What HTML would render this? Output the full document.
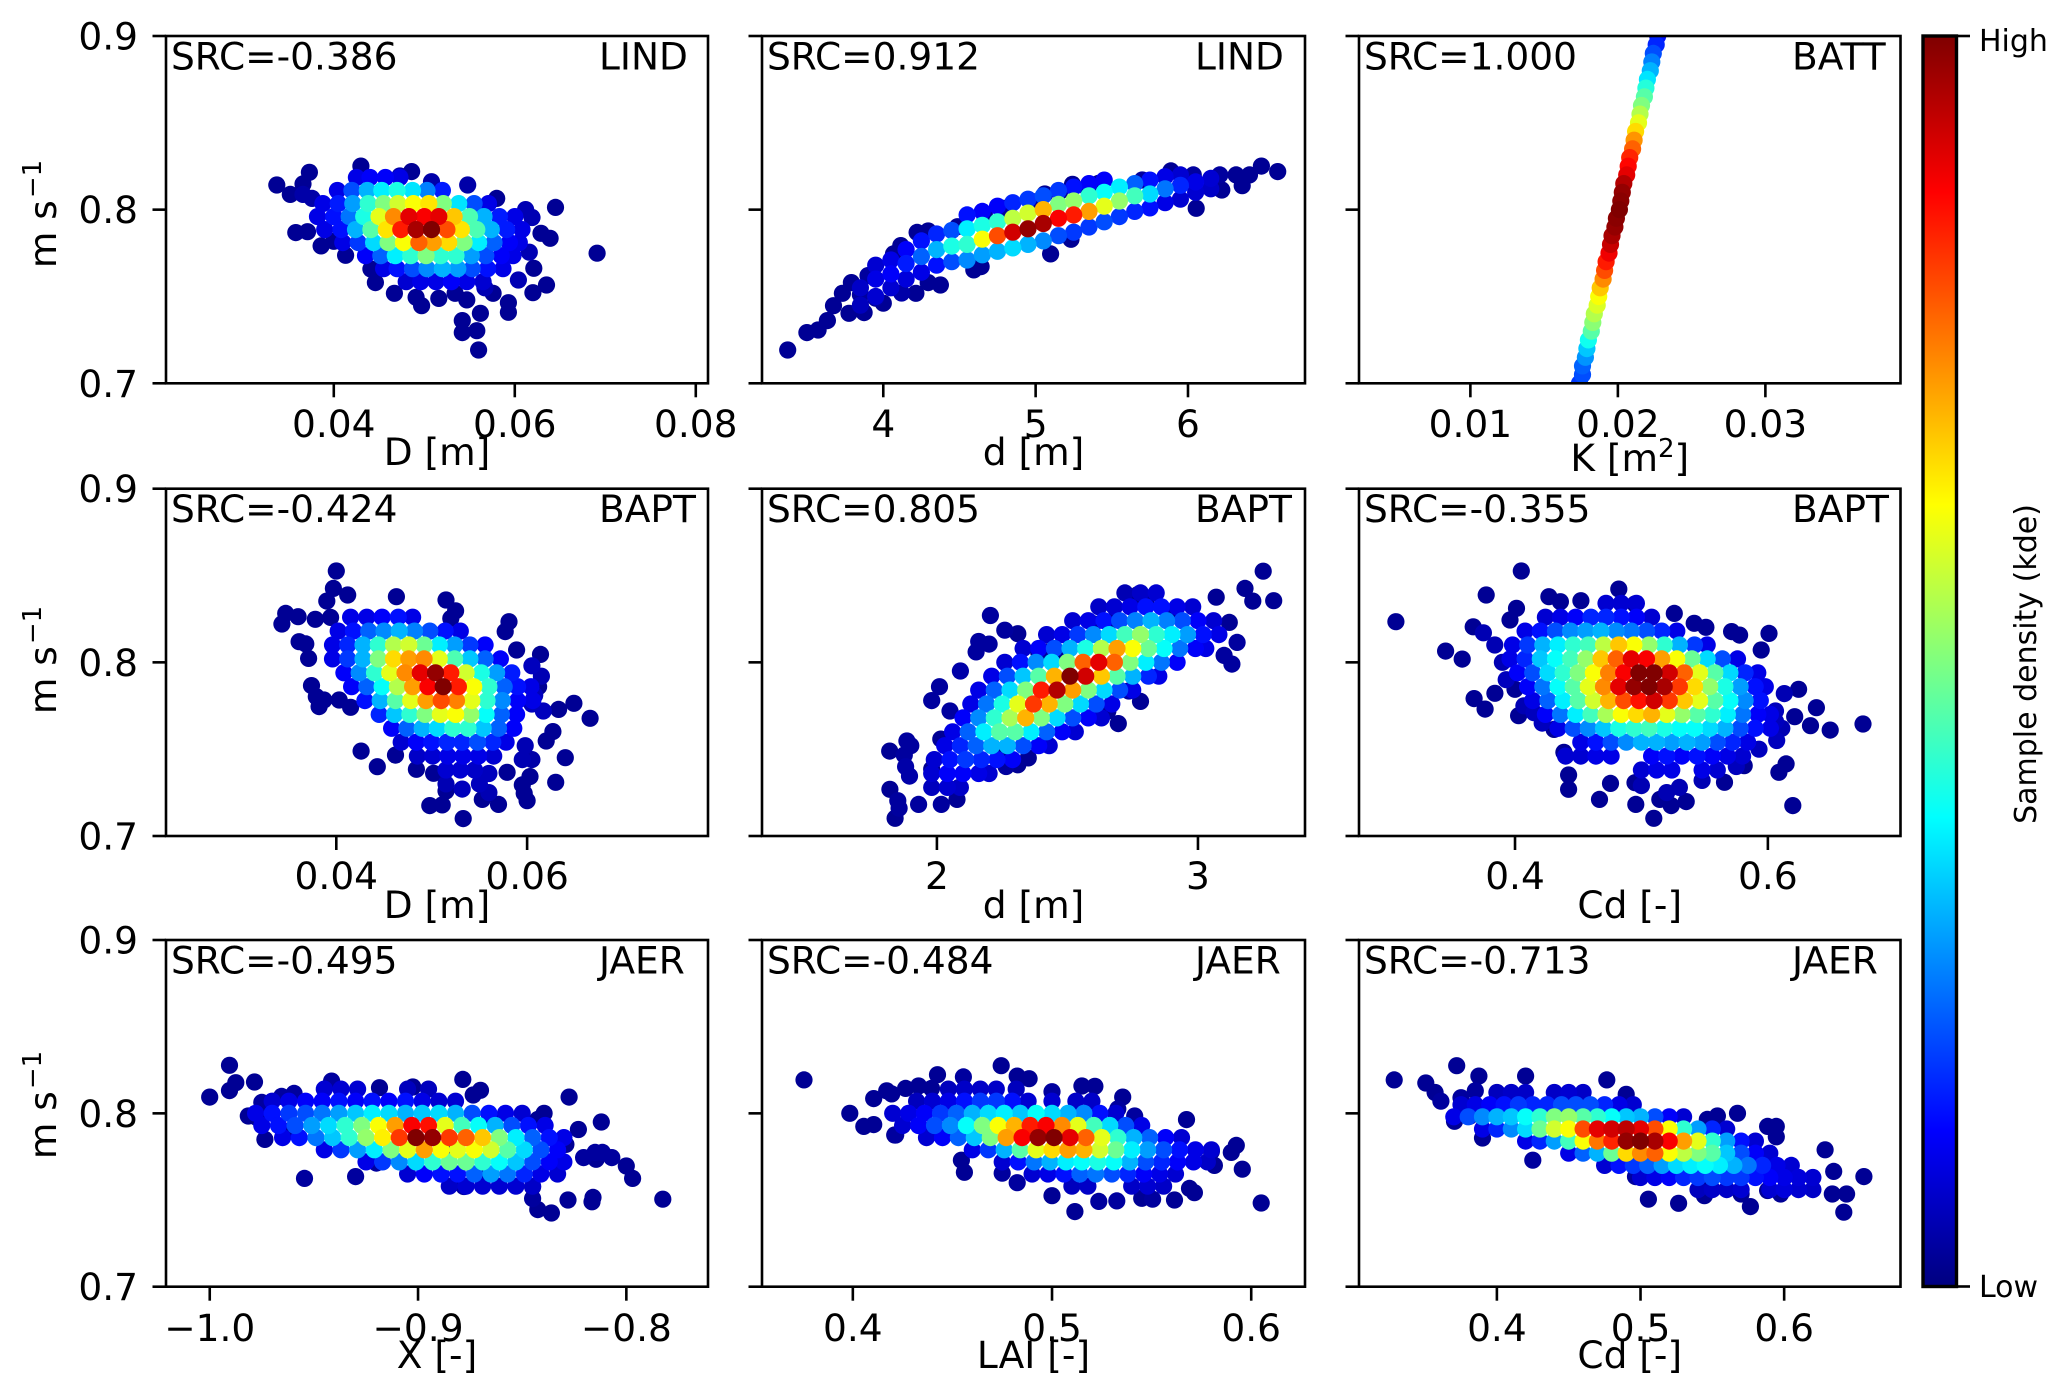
<!DOCTYPE html>
<html lang="en">
<head>
<meta charset="utf-8">
<title>Sensitivity scatter panels</title>
<style>
html,body{margin:0;padding:0;background:#fff;}
svg{display:block;}
text{font-family:"DejaVu Sans","Liberation Sans",sans-serif;fill:#000;}
</style>
</head>
<body>
<svg id="figure" xmlns="http://www.w3.org/2000/svg" width="2067" height="1399" viewBox="0 0 2067 1399">
<defs>
<linearGradient id="jetGradient" x1="0" y1="1" x2="0" y2="0">
<stop offset="0" stop-color="#00007f"/>
<stop offset="0.125" stop-color="#0000ff"/>
<stop offset="0.375" stop-color="#00ffff"/>
<stop offset="0.625" stop-color="#ffff00"/>
<stop offset="0.875" stop-color="#ff0000"/>
<stop offset="1" stop-color="#7f0000"/>
</linearGradient>
</defs>
<rect x="0" y="0" width="2067" height="1399" fill="#fff"/>
<g id="panels"></g>
<g id="colorbar">
<rect x="1923" y="36" width="33.5" height="1250.5" fill="url(#jetGradient)" stroke="#000" stroke-width="3.4"/>
<line x1="1956" y1="36" x2="1970" y2="36" stroke="#000" stroke-width="2.6"/>
<line x1="1956" y1="1286.5" x2="1970" y2="1286.5" stroke="#000" stroke-width="2.6"/>
<text x="1979" y="51" font-size="30">High</text>
<text x="1979" y="1297" font-size="30">Low</text>
<text transform="translate(2036,664) rotate(-90)" text-anchor="middle" font-size="30">Sample density (kde)</text>
</g>
</svg>
<script>
// Each series is a flat list of estimated readings: x, y, density, x, y, density, ...
const lindD = [
.0337,.8142,.02,.0352,.8088,.02,.0366,.8148,.02,.0373,.8215,.02,.043,.8251,.02,.0486,.8219,.02,.0358,.7868,.02,.0371,.7873,.02,.0386,.7791,.02,.04,.7818,.02,.0413,.7737,.02,.0441,.7658,.02,.0446,.758,.02,.0467,.7518,.02,.0491,.7495,.02,.0497,.7447,.02,.0516,.7489,.02,.0534,.7518,.02,.0547,.748,.02,.0542,.7361,.02,.0542,.7292,.02,.0558,.7303,.02,.0562,.7403,.02,.056,.7192,.02,.0593,.7409,.02,.0593,.7464,.02,.0576,.7518,.02,.062,.7522,.02,.0635,.7566,.02,.0621,.7662,.02,.0639,.7835,.02,.0629,.7864,.02,.0645,.8013,.02,.0691,.7749,.02,.058,.8065,.02,.0548,.8142,.04,.0508,.8161,.04,.0473,.8194,.04,.0366,.8088,.04,.0376,.8065,.04,.0612,.8,.05,.0619,.7955,.05,.0616,.7755,.05,.0604,.7595,.05,.0567,.755,.05,
.0425,.8185,.1,.044,.8185,.12,.0457,.8185,.12,.0473,.8185,.1,
.0404,.811,.1,.042,.811,.2,.0437,.811,.3,.0453,.811,.36,.047,.811,.4,.0487,.811,.35,.0503,.811,.25,.052,.811,.15,
.0388,.8035,.1,.0405,.8035,.15,.0421,.8035,.28,.0438,.8035,.42,.0455,.8035,.5,.0471,.8035,.58,.0488,.8035,.62,.0505,.8035,.65,.0521,.8035,.5,.0538,.8035,.35,.0555,.8035,.2,.0571,.8035,.1,
.0382,.796,.1,.04,.796,.14,.0417,.796,.24,.0433,.796,.4,.045,.796,.6,.0466,.796,.74,.0483,.796,.9,.05,.796,.88,.0516,.796,.9,.0533,.796,.68,.055,.796,.45,.0566,.796,.3,.0583,.796,.15,.06,.796,.1,
.039,.7885,.1,.0408,.7885,.14,.0424,.7885,.3,.0441,.7885,.46,.0458,.7885,.65,.0474,.7885,.85,.0491,.7885,.96,.0508,.7885,1,.0525,.7885,.8,.0541,.7885,.65,.0558,.7885,.45,.0574,.7885,.3,.0591,.7885,.15,.0608,.7885,.1,
.041,.781,.1,.0427,.781,.18,.0444,.781,.34,.046,.781,.5,.0477,.781,.62,.0494,.781,.78,.051,.781,.72,.0527,.781,.66,.0544,.781,.5,.056,.781,.36,.0577,.781,.22,.0594,.781,.12,.0605,.781,.1,
.0435,.7735,.12,.0452,.7735,.22,.0468,.7735,.36,.0485,.7735,.42,.0502,.7735,.5,.0518,.7735,.42,.0535,.7735,.42,.0552,.7735,.28,.0568,.7735,.2,.0585,.7735,.12,.0598,.7735,.1,
.0455,.766,.1,.047,.766,.14,.0487,.766,.2,.0503,.766,.26,.052,.766,.3,.0537,.766,.28,.0553,.766,.2,.057,.766,.14,.0587,.766,.1,
.048,.7585,.08,.0496,.7585,.1,.0513,.7585,.1,.053,.7585,.12,.0547,.7585,.1,.0565,.7585,.08
];
const lindDepth = [
3.373,.7192,.02,3.499,.7292,.02,3.572,.7307,.02,3.633,.7361,.02,3.673,.7447,.02,3.732,.7518,.02,3.775,.7403,.02,3.874,.7407,.02,4,.7461,.02,3.791,.758,.02,4.214,.7518,.02,4.375,.7566,.02,4.295,.758,.02,4.067,.7745,.02,4.115,.7793,.02,4.222,.7869,.02,4.295,.7877,.02,4.487,.7902,.02,4.664,.7969,.03,4.79,.8008,.03,4.985,.8046,.03,5.06,.809,.02,5.157,.8104,.02,5.242,.8146,.02,5.344,.8119,.02,5.414,.8152,.02,5.7,.8171,.03,5.888,.8223,.02,6.035,.82,.03,6.209,.82,.03,6.316,.82,.02,6.404,.82,.02,6.482,.8251,.02,6.589,.8219,.02,6.356,.8138,.02,6.222,.8113,.02,6.054,.8008,.02,5.098,.7745,.02,5.232,.7829,.02,4.594,.7653,.02,4.642,.7672,.02,3.95,.749,.03,3.85,.751,.03,3.9,.762,.03,4.12,.752,.04,
3.85,.745,.06,3.85,.755,.07,3.95,.75,.08,3.95,.76,.1,3.95,.768,.08,
4.05,.755,.08,4.05,.763,.12,4.05,.771,.1,4.15,.76,.09,4.15,.769,.15,4.15,.777,.12,
4.25,.764,.1,4.25,.773,.22,4.25,.782,.14,4.35,.768,.14,4.35,.777,.3,4.35,.786,.16,
4.45,.77,.2,4.45,.779,.4,4.45,.788,.2,4.55,.771,.26,4.55,.78,.42,4.55,.789,.36,4.55,.797,.14,
4.65,.774,.28,4.65,.783,.62,4.65,.791,.4,4.65,.799,.12,4.75,.776,.3,4.75,.785,.8,4.75,.793,.42,4.75,.802,.12,
4.85,.778,.34,4.85,.787,.92,4.85,.795,.56,4.85,.804,.16,4.95,.78,.3,4.95,.789,.98,4.95,.798,.58,4.95,.806,.18,
5.05,.782,.26,5.05,.792,.96,5.05,.8,.7,5.05,.808,.2,5.15,.785,.2,5.15,.795,.88,5.15,.803,.5,5.15,.811,.18,
5.25,.787,.18,5.25,.797,.85,5.25,.805,.52,5.25,.813,.14,5.35,.79,.18,5.35,.799,.72,5.35,.808,.42,5.35,.815,.12,
5.45,.793,.2,5.45,.802,.6,5.45,.81,.38,5.45,.817,.12,5.55,.796,.18,5.55,.805,.52,5.55,.813,.36,
5.65,.799,.16,5.65,.808,.44,5.65,.815,.22,5.75,.801,.14,5.75,.809,.34,5.75,.817,.14,
5.85,.804,.1,5.85,.812,.24,5.85,.819,.1,5.95,.806,.08,5.95,.814,.16,5.95,.82,.08,
6.05,.81,.08,6.05,.816,.1,6.15,.812,.07,6.15,.818,.08
];
const battK = [
.0173,.695,.18,.0174,.7,.18,.0176,.705,.2,.0176,.71,.22,.0178,.715,.27,.0179,.72,.32,.018,.725,.39,.0182,.73,.46,.0183,.735,.51,.0184,.74,.55,.0186,.745,.59,.0187,.75,.62,.0188,.755,.68,.019,.76,.74,.0191,.765,.8,.0192,.77,.85,.0194,.775,.89,.0195,.78,.93,.0196,.785,.96,.0198,.79,.98,.0199,.795,.99,.0201,.8,1,.0202,.805,.99,.0203,.81,.98,.0204,.815,.95,.0206,.82,.9,.0207,.825,.87,.0208,.83,.84,.021,.835,.78,.0211,.84,.73,.0212,.845,.66,.0214,.85,.6,.0215,.855,.55,.0216,.86,.5,.0218,.865,.46,.0219,.87,.41,.022,.875,.35,.0222,.88,.3,.0223,.885,.25,.0224,.89,.2,.0226,.895,.16,.0227,.9,.14,.0228,.905,.1
];
const baptD = [
.04,.8526,.02,.0397,.8426,.02,.0412,.8388,.02,.039,.8353,.02,.0463,.8378,.02,.0515,.8359,.02,.0525,.8297,.02,.052,.8253,.02,.0581,.8234,.02,.0577,.8177,.02,.0347,.8282,.02,.036,.8263,.02,.0343,.8221,.02,.0378,.8248,.02,.0394,.8259,.02,.0361,.8119,.02,.0368,.8106,.02,.0371,.8023,.02,.0374,.7866,.02,.0379,.7802,.02,.0387,.7783,.02,.0382,.7745,.02,.0403,.7783,.02,.0415,.7741,.02,.0614,.8046,.02,.0589,.8071,.02,.0612,.786,.02,.0649,.7764,.02,.0666,.7678,.02,.0633,.7729,.02,.064,.7451,.02,.063,.7309,.02,.0603,.7342,.02,.0595,.7294,.02,.0597,.7246,.02,.06,.7203,.02,.057,.7182,.02,.0553,.7211,.02,.0533,.71,.02,.0511,.7179,.02,.0498,.7175,.02,.0515,.7259,.02,.0426,.7489,.02,.0443,.7399,.02,.0462,.7466,.02,.0484,.7384,.02,.0502,.7361,.02,.062,.7547,.02,.0627,.7601,.02,.0579,.7367,.02,
.0605,.798,.06,.0615,.792,.05,.0608,.781,.06,.0617,.772,.06,.0605,.776,.06,.0598,.752,.05,.0595,.744,.05,.0605,.744,.04,.056,.736,.06,.0532,.727,.06,.0515,.73,.05,.055,.73,.06,.056,.725,.05,
.0415,.826,.1,.0432,.826,.1,.0448,.826,.12,.0465,.826,.14,.048,.826,.1,
.0402,.818,.1,.0418,.818,.14,.0434,.818,.22,.045,.818,.26,.0466,.818,.3,.0482,.818,.25,.0498,.818,.2,.0514,.818,.14,.053,.818,.1,
.0396,.81,.1,.0412,.81,.16,.0428,.81,.3,.0444,.81,.42,.046,.81,.55,.0476,.81,.58,.0492,.81,.48,.0508,.81,.36,.0524,.81,.28,.054,.81,.18,.0556,.81,.12,
.0396,.802,.1,.0412,.802,.18,.0428,.802,.3,.0444,.802,.5,.046,.802,.66,.0476,.802,.72,.0492,.802,.74,.0508,.802,.6,.0524,.802,.45,.054,.802,.32,.0556,.802,.22,.0572,.802,.12,
.0408,.794,.12,.0424,.794,.26,.044,.794,.42,.0456,.794,.6,.0472,.794,.74,.0488,.794,.9,.0504,.794,.98,.052,.794,.85,.0536,.794,.58,.0552,.794,.4,.0568,.794,.28,.0584,.794,.15,
.0416,.786,.12,.0432,.786,.22,.0448,.786,.38,.0464,.786,.55,.048,.786,.72,.0496,.786,.88,.0512,.786,1,.0528,.786,.85,.0544,.786,.62,.056,.786,.42,.0576,.786,.22,.059,.786,.14,.0604,.786,.1,
.043,.778,.14,.0446,.778,.3,.0462,.778,.46,.0478,.778,.6,.0494,.778,.72,.051,.778,.8,.0526,.778,.75,.0542,.778,.6,.0558,.778,.42,.0574,.778,.26,.059,.778,.12,.0606,.778,.1,
.0445,.77,.16,.0461,.77,.32,.0477,.77,.42,.0493,.77,.5,.0509,.77,.6,.0525,.77,.62,.0541,.77,.52,.0557,.77,.38,.0573,.77,.22,.0589,.77,.12,
.0458,.762,.12,.0474,.762,.22,.049,.762,.3,.0506,.762,.34,.0522,.762,.42,.0538,.762,.42,.0554,.762,.32,.057,.762,.22,.0586,.762,.12,
.0468,.754,.08,.0484,.754,.12,.05,.754,.14,.0516,.754,.16,.0532,.754,.16,.0548,.754,.2,.0564,.754,.16,.0578,.754,.1,
.0485,.746,.07,.0501,.746,.08,.0517,.746,.1,.0533,.746,.1,.0549,.746,.1,.0565,.746,.08,.0515,.738,.08,.053,.738,.08,.0545,.738,.07
];
const baptDepth = [
1.819,.7489,.02,1.875,.7466,.03,1.885,.7547,.03,1.9,.752,.03,1.88,.7399,.04,1.895,.7345,.04,1.82,.7269,.02,1.85,.7203,.03,1.855,.716,.03,1.84,.7102,.02,1.93,.7182,.03,2.017,.7182,.03,2.077,.7211,.02,2.085,.728,.03,2.015,.7558,.02,1.98,.7385,.02,2.265,.746,.02,2.31,.741,.02,2.35,.745,.02,2.265,.74,.03,2.26,.75,.02,2.655,.772,.02,2.695,.7647,.02,2.78,.7775,.02,2.735,.7835,.04,1.98,.778,.03,2.01,.786,.03,2.05,.772,.03,2.09,.795,.04,2.15,.806,.03,2.16,.812,.03,2.205,.827,.03,2.2,.8105,.03,2.26,.8185,.03,2.31,.8165,.02,2.39,.8058,.02,2.42,.806,.03,2.49,.803,.02,2.6,.8222,.03,2.68,.8245,.03,2.77,.839,.02,2.8,.835,.03,2.9,.8275,.03,3.07,.8375,.02,3.18,.8426,.02,3.12,.823,.02,3.21,.8353,.02,3.25,.8525,.02,3.29,.8355,.02,3.15,.8115,.03,3.13,.799,.03,3.1,.804,.03,
2.72,.84,.05,2.78,.84,.07,2.84,.84,.08,
2.62,.832,.07,2.68,.832,.08,2.74,.832,.1,2.8,.832,.14,2.86,.832,.14,2.92,.832,.1,2.98,.832,.08,
2.52,.824,.08,2.58,.824,.1,2.64,.824,.14,2.7,.824,.2,2.76,.824,.25,2.82,.824,.3,2.88,.824,.25,2.94,.824,.2,3,.824,.12,3.06,.824,.08,
2.42,.816,.08,2.48,.816,.1,2.54,.816,.18,2.6,.816,.26,2.66,.816,.34,2.72,.816,.44,2.78,.816,.52,2.84,.816,.42,2.9,.816,.36,2.96,.816,.28,3.02,.816,.14,3.08,.816,.1,
2.33,.808,.08,2.39,.808,.12,2.45,.808,.2,2.51,.808,.3,2.57,.808,.4,2.63,.808,.55,2.69,.808,.72,2.75,.808,.62,2.81,.808,.48,2.87,.808,.38,2.93,.808,.24,2.99,.808,.12,3.03,.808,.1,
2.26,.8,.08,2.32,.8,.14,2.38,.8,.26,2.44,.8,.34,2.5,.8,.5,2.56,.8,.78,2.62,.8,.9,2.68,.8,.78,2.74,.8,.5,2.8,.8,.36,2.86,.8,.24,2.92,.8,.12,
2.21,.792,.1,2.27,.792,.2,2.33,.792,.32,2.39,.792,.46,2.45,.792,.7,2.51,.792,1,2.57,.792,.92,2.63,.792,.68,2.69,.792,.46,2.75,.792,.3,2.81,.792,.16,2.85,.792,.1,
2.16,.784,.1,2.22,.784,.22,2.28,.784,.34,2.34,.784,.5,2.4,.784,.85,2.46,.784,.95,2.52,.784,.72,2.58,.784,.5,2.64,.784,.34,2.7,.784,.2,2.75,.784,.1,
2.13,.776,.1,2.19,.776,.24,2.25,.776,.4,2.31,.776,.6,2.37,.776,.82,2.43,.776,.7,2.49,.776,.5,2.55,.776,.34,2.61,.776,.2,2.67,.776,.1,
2.1,.768,.12,2.16,.768,.26,2.22,.768,.42,2.28,.768,.54,2.34,.768,.7,2.4,.768,.5,2.46,.768,.34,2.52,.768,.2,2.58,.768,.12,2.63,.768,.08,
2.06,.76,.1,2.12,.76,.22,2.18,.76,.36,2.24,.76,.46,2.3,.76,.46,2.36,.76,.36,2.42,.76,.22,2.48,.76,.12,2.53,.76,.08,
2.03,.752,.1,2.09,.752,.16,2.15,.752,.22,2.21,.752,.3,2.27,.752,.3,2.33,.752,.2,2.39,.752,.12,2.43,.752,.08,
1.99,.744,.08,2.05,.744,.14,2.11,.744,.18,2.17,.744,.16,2.23,.744,.14,2.29,.744,.12,
1.98,.736,.08,2.04,.736,.12,2.1,.736,.12,2.16,.736,.1,2.2,.736,.08,1.98,.728,.06,2.04,.728,.08,2.09,.728,.07
];
const baptCd = [
.3058,.8234,.02,.3451,.8065,.02,.3582,.8019,.02,.3676,.7791,.02,.3763,.7731,.02,.3772,.8388,.02,.405,.8526,.02,.4268,.8378,.02,.4359,.8349,.02,.4521,.8355,.02,.4821,.8422,.02,.4949,.8336,.02,.526,.8282,.02,.5417,.8225,.02,.551,.8202,.02,.5713,.8177,.02,.5776,.8157,.02,.6009,.8167,.02,.5947,.8071,.02,.6243,.7845,.02,.6384,.7739,.02,.6493,.761,.02,.6752,.7645,.02,.6337,.7635,.02,.6212,.7687,.02,.6144,.7415,.02,.6087,.7367,.02,.6197,.7175,.02,.5657,.7309,.02,.5813,.7405,.02,.5354,.7198,.02,.5235,.7175,.02,.5098,.7102,.02,.4955,.7182,.02,.5145,.7211,.02,.4668,.7211,.02,.4755,.7303,.02,.4424,.7269,.02,.4424,.7351,.02,.4949,.7307,.02,.4387,.7482,.02,.4028,.7693,.02,.4309,.7614,.02,.3841,.7822,.02,.4,.7845,.02,.3669,.8205,.02,.396,.8244,.02,.4012,.8311,.02,
.375,.817,.05,.384,.81,.05,.39,.8,.05,.393,.79,.06,.407,.775,.05,.415,.771,.06,.4215,.765,.06,.5,.729,.05,.52,.725,.05,.53,.728,.05,.548,.732,.05,.575,.74,.06,.593,.75,.06,.607,.755,.06,.611,.762,.05,.606,.766,.06,.613,.782,.05,.606,.772,.06,
.472,.834,.08,.484,.834,.08,.496,.834,.08,
.424,.826,.08,.436,.826,.1,.448,.826,.12,.46,.826,.16,.472,.826,.16,.484,.826,.14,.496,.826,.12,.508,.826,.08,
.408,.818,.1,.42,.818,.14,.432,.818,.2,.444,.818,.26,.456,.818,.28,.468,.818,.3,.48,.818,.26,.492,.818,.24,.504,.818,.2,.516,.818,.16,.528,.818,.1,
.398,.81,.1,.41,.81,.18,.422,.81,.3,.434,.81,.36,.446,.81,.42,.458,.81,.44,.47,.81,.56,.482,.81,.68,.494,.81,.62,.506,.81,.52,.518,.81,.42,.53,.81,.3,.542,.81,.18,.552,.81,.1,
.396,.802,.1,.408,.802,.16,.42,.802,.32,.432,.802,.38,.444,.802,.44,.456,.802,.52,.468,.802,.68,.48,.802,.78,.492,.802,.9,.504,.802,.88,.516,.802,.72,.528,.802,.62,.54,.802,.48,.552,.802,.34,.564,.802,.2,.576,.802,.1,
.402,.794,.12,.414,.794,.2,.426,.794,.34,.438,.794,.42,.45,.794,.5,.462,.794,.62,.474,.794,.75,.486,.794,.88,.498,.794,1,.51,.794,1,.522,.794,.92,.534,.794,.78,.546,.794,.6,.558,.794,.46,.57,.794,.34,.582,.794,.16,.592,.794,.1,
.41,.786,.12,.422,.786,.24,.434,.786,.38,.446,.786,.46,.458,.786,.6,.47,.786,.74,.482,.786,.9,.494,.786,.98,.506,.786,1,.518,.786,.96,.53,.786,.82,.542,.786,.66,.554,.786,.52,.566,.786,.4,.578,.786,.28,.59,.786,.14,.598,.786,.1,
.414,.778,.1,.426,.778,.22,.438,.778,.36,.45,.778,.46,.462,.778,.58,.474,.778,.7,.486,.778,.8,.498,.778,.86,.51,.778,.92,.522,.778,.82,.534,.778,.68,.546,.778,.6,.558,.778,.46,.57,.778,.38,.582,.778,.26,.594,.778,.14,
.424,.77,.12,.436,.77,.24,.448,.77,.36,.46,.77,.44,.472,.77,.54,.484,.77,.62,.496,.77,.66,.508,.77,.7,.52,.77,.6,.532,.77,.52,.544,.77,.46,.556,.77,.42,.568,.77,.36,.58,.77,.24,.592,.77,.12,.602,.77,.1,
.434,.762,.1,.446,.762,.2,.458,.762,.26,.47,.762,.32,.482,.762,.4,.494,.762,.42,.506,.762,.44,.518,.762,.4,.53,.762,.38,.542,.762,.38,.554,.762,.34,.566,.762,.3,.578,.762,.2,.59,.762,.14,.602,.762,.1,
.452,.754,.1,.464,.754,.14,.476,.754,.2,.488,.754,.26,.5,.754,.3,.512,.754,.3,.524,.754,.28,.536,.754,.3,.548,.754,.28,.56,.754,.2,.572,.754,.16,.584,.754,.1,
.44,.746,.08,.452,.746,.08,.464,.746,.1,.476,.746,.1,.508,.746,.12,.52,.746,.14,.532,.746,.12,.544,.746,.14,.556,.746,.12,.568,.746,.1,.58,.746,.08,
.5,.738,.08,.512,.738,.1,.524,.738,.1,.548,.738,.1,.56,.738,.08
];
const jaerX = [
-1,.8094,.02,-.9905,.8277,.02,-.9785,.8181,.02,-.9875,.8177,.02,-.9905,.8131,.02,-.9775,.7977,.02,-.976,.7977,.02,-.9815,.7985,.02,-.9615,.7898,.02,-.9735,.785,.02,-.9545,.7625,.03,-.93,.7635,.03,-.92,.7713,.03,-.885,.7765,.03,-.87,.7655,.03,-.878,.7578,.03,-.845,.7575,.03,-.828,.75,.02,-.836,.7425,.02,-.8425,.7445,.02,-.845,.7508,.03,-.816,.7515,.02,-.8165,.749,.02,-.797,.7625,.02,-.7825,.7505,.02,-.8,.7696,.02,-.815,.7775,.03,-.807,.7745,.03,-.8115,.7775,.03,-.8205,.7745,.03,-.8145,.7735,.02,-.833,.7829,.02,-.829,.7821,.02,-.823,.7907,.02,-.812,.795,.02,-.8275,.8094,.02,-.8395,.8,.02,-.8425,.7965,.02,-.8785,.8196,.02,-.8735,.8106,.02,-.87,.8133,.02,-.9025,.8152,.02,-.9185,.8148,.02,-.9415,.8186,.03,-.9595,.8115,.03,-.975,.8063,.03,-.9655,.8098,.03,-.8655,.7973,.03,
-.945,.814,.08,-.937,.814,.08,-.929,.814,.08,-.905,.814,.06,-.895,.814,.06,
-.97,.807,.08,-.962,.807,.1,-.954,.807,.12,-.946,.807,.12,-.938,.807,.14,-.93,.807,.12,-.922,.807,.14,-.914,.807,.12,-.906,.807,.14,-.898,.807,.1,-.89,.807,.08,-.882,.807,.08,
-.978,.8,.1,-.97,.8,.14,-.962,.8,.18,-.954,.8,.2,-.946,.8,.24,-.938,.8,.28,-.93,.8,.32,-.922,.8,.36,-.914,.8,.34,-.906,.8,.3,-.898,.8,.32,-.89,.8,.34,-.882,.8,.3,-.874,.8,.2,-.866,.8,.14,-.858,.8,.1,-.85,.8,.08,
-.975,.793,.1,-.967,.793,.14,-.959,.793,.2,-.951,.793,.28,-.943,.793,.34,-.935,.793,.42,-.927,.793,.5,-.919,.793,.62,-.911,.793,.72,-.903,.793,.88,-.895,.793,.86,-.887,.793,.6,-.879,.793,.44,-.871,.793,.38,-.863,.793,.3,-.855,.793,.2,-.847,.793,.14,-.839,.793,.1,
-.965,.786,.1,-.957,.786,.14,-.949,.786,.24,-.941,.786,.32,-.933,.786,.42,-.925,.786,.52,-.917,.786,.64,-.909,.786,.82,-.901,.786,1,-.893,.786,.98,-.885,.786,.82,-.877,.786,.78,-.869,.786,.68,-.861,.786,.5,-.853,.786,.36,-.845,.786,.22,-.837,.786,.14,-.83,.786,.1,
-.945,.779,.1,-.937,.779,.18,-.929,.779,.28,-.921,.779,.36,-.913,.779,.5,-.905,.779,.6,-.897,.779,.72,-.889,.779,.62,-.881,.779,.6,-.873,.779,.62,-.865,.779,.58,-.857,.779,.46,-.849,.779,.34,-.841,.779,.2,-.833,.779,.12,
-.925,.772,.1,-.917,.772,.18,-.909,.772,.26,-.901,.772,.34,-.893,.772,.42,-.885,.772,.48,-.877,.772,.48,-.869,.772,.42,-.861,.772,.38,-.853,.772,.32,-.845,.772,.2,-.837,.772,.12,-.83,.772,.1,
-.905,.765,.08,-.897,.765,.12,-.889,.765,.14,-.881,.765,.14,-.873,.765,.22,-.865,.765,.28,-.857,.765,.24,-.849,.765,.16,-.841,.765,.1,-.833,.765,.08,
-.885,.758,.07,-.877,.758,.08,-.869,.758,.08,-.861,.758,.08,-.853,.758,.08,-.845,.758,.07
];
const jaerLai = [
.3755,.8193,.02,.3985,.8,.02,.4055,.7925,.02,.4105,.7935,.02,.421,.7875,.02,.4105,.8085,.02,.417,.813,.02,.4195,.8112,.02,.4265,.8144,.02,.433,.8158,.02,.4395,.8144,.02,.4425,.8223,.02,.4555,.821,.03,.4745,.8275,.02,.4825,.8215,.02,.4885,.82,.02,.5,.8125,.03,.515,.8158,.02,.5215,.8156,.02,.5355,.8094,.02,.533,.8025,.03,.5415,.7985,.03,.5675,.7964,.02,.59,.7775,.02,.5925,.7815,.02,.5815,.77,.02,.5955,.7678,.02,.605,.7483,.02,.5615,.75,.02,.545,.751,.02,.5505,.7505,.03,.5325,.7495,.03,.5235,.7492,.03,.5115,.7433,.02,.5,.7525,.02,.569,.7567,.02,.5715,.7542,.02,.58,.778,.03,.4825,.76,.03,.456,.766,.02,.4545,.773,.02,.475,.7655,.03,.4375,.79,.03,.4215,.7875,.03,
.448,.814,.06,.456,.814,.07,.464,.814,.07,.472,.814,.07,.482,.814,.06,
.432,.807,.06,.44,.807,.08,.448,.807,.1,.456,.807,.14,.464,.807,.18,.472,.807,.18,.48,.807,.14,.488,.807,.08,.5,.807,.08,.512,.807,.07,.52,.807,.07,
.42,.8,.08,.428,.8,.1,.436,.8,.12,.444,.8,.18,.452,.8,.22,.46,.8,.3,.468,.8,.34,.476,.8,.36,.484,.8,.32,.492,.8,.38,.5,.8,.34,.508,.8,.3,.516,.8,.26,.524,.8,.14,.532,.8,.08,
.425,.793,.08,.433,.793,.12,.441,.793,.2,.449,.793,.26,.457,.793,.38,.465,.793,.5,.473,.793,.62,.481,.793,.7,.489,.793,.85,.497,.793,.88,.505,.793,.74,.513,.793,.6,.521,.793,.44,.529,.793,.34,.537,.793,.2,.545,.793,.1,
.437,.786,.08,.445,.786,.12,.453,.786,.22,.461,.786,.32,.469,.786,.5,.477,.786,.72,.485,.786,.88,.493,.786,.98,.501,.786,1,.509,.786,.9,.517,.786,.78,.525,.786,.6,.533,.786,.42,.541,.786,.3,.549,.786,.22,.557,.786,.12,.565,.786,.08,
.46,.779,.1,.468,.779,.18,.476,.779,.3,.484,.779,.46,.492,.779,.6,.5,.779,.66,.508,.779,.72,.516,.779,.7,.524,.779,.58,.532,.779,.48,.54,.779,.36,.548,.779,.28,.556,.779,.2,.564,.779,.14,.572,.779,.1,.58,.779,.08,
.475,.772,.08,.483,.772,.14,.491,.772,.24,.499,.772,.3,.507,.772,.36,.515,.772,.38,.523,.772,.4,.531,.772,.38,.539,.772,.3,.547,.772,.2,.555,.772,.16,.563,.772,.12,.571,.772,.1,.578,.772,.07,
.49,.765,.08,.498,.765,.1,.506,.765,.14,.514,.765,.22,.522,.765,.24,.53,.765,.2,.538,.765,.16,.546,.765,.12,.554,.765,.1,.562,.765,.08,
.51,.758,.06,.518,.758,.07,.54,.758,.07,.548,.758,.08,.556,.758,.07
];
const jaerCd = [
.3285,.8193,.02,.3505,.8175,.02,.357,.812,.02,.372,.8275,.02,.3875,.8215,.02,.42,.8215,.02,.4765,.8193,.02,.49,.811,.02,.3705,.7954,.02,.381,.7983,.02,.39,.7858,.02,.5055,.7505,.02,.5265,.7481,.02,.5445,.7525,.02,.5485,.7585,.02,.5765,.7462,.02,.57,.7535,.02,.5885,.7555,.02,.5975,.7535,.02,.6415,.743,.02,.6335,.7535,.02,.6435,.7535,.02,.6555,.7635,.02,.6345,.7665,.02,.6285,.779,.02,.5885,.7925,.02,.5945,.7925,.02,.5945,.7865,.02,.5675,.8,.02,.5535,.7985,.02,.5465,.7965,.02,.4965,.7635,.03,.375,.809,.03,.385,.813,.03,.361,.807,.03,.425,.773,.03,
.4,.812,.06,.41,.812,.07,.42,.812,.07,.44,.812,.07,.45,.812,.08,.46,.812,.07,
.375,.805,.08,.385,.805,.1,.395,.805,.12,.405,.805,.14,.415,.805,.18,.425,.805,.16,.435,.805,.16,.445,.805,.2,.455,.805,.2,.465,.805,.2,.475,.805,.16,.485,.805,.1,.495,.805,.08,
.37,.798,.1,.38,.798,.2,.39,.798,.26,.4,.798,.3,.41,.798,.32,.42,.798,.38,.43,.798,.42,.44,.798,.5,.45,.798,.52,.46,.798,.46,.47,.798,.42,.48,.798,.38,.49,.798,.32,.5,.798,.3,.51,.798,.2,.52,.798,.12,.53,.798,.08,
.39,.791,.1,.4,.791,.16,.41,.791,.26,.42,.791,.34,.43,.791,.48,.44,.791,.58,.45,.791,.62,.46,.791,.8,.47,.791,.9,.48,.791,.92,.49,.791,.94,.5,.791,.9,.51,.791,.8,.52,.791,.62,.53,.791,.42,.54,.791,.28,.55,.791,.16,.56,.791,.08,
.42,.784,.1,.43,.784,.16,.44,.784,.28,.45,.784,.44,.46,.784,.62,.47,.784,.76,.48,.784,.84,.49,.784,.98,.5,.784,1,.51,.784,.96,.52,.784,.88,.53,.784,.72,.54,.784,.6,.55,.784,.42,.56,.784,.28,.57,.784,.14,.58,.784,.08,
.45,.777,.1,.46,.777,.22,.47,.777,.3,.48,.777,.48,.49,.777,.66,.5,.777,.74,.51,.777,.78,.52,.777,.62,.53,.777,.56,.54,.777,.5,.55,.777,.46,.56,.777,.32,.57,.777,.2,.58,.777,.12,.59,.777,.08,
.475,.77,.08,.485,.77,.14,.495,.77,.18,.505,.77,.22,.515,.77,.28,.525,.77,.34,.535,.77,.36,.545,.77,.38,.555,.77,.36,.565,.77,.3,.575,.77,.24,.585,.77,.16,.595,.77,.1,.605,.77,.08,
.5,.763,.08,.51,.763,.1,.52,.763,.12,.53,.763,.16,.54,.763,.18,.55,.763,.2,.56,.763,.18,.57,.763,.18,.58,.763,.14,.59,.763,.12,.6,.763,.1,.61,.763,.09,.62,.763,.08,
.54,.756,.06,.55,.756,.07,.56,.756,.07,.57,.756,.08,.59,.756,.08,.6,.756,.09,.61,.756,.08,.62,.756,.07
];

const panelSeries = [lindD, lindDepth, battK, baptD, baptDepth, baptCd, jaerX, jaerLai, jaerCd];
const panelSrc = ['SRC=-0.386','SRC=0.912','SRC=1.000','SRC=-0.424','SRC=0.805','SRC=-0.355','SRC=-0.495','SRC=-0.484','SRC=-0.713'];
const panelSite = ['LIND','LIND','BATT','BAPT','BAPT','BAPT','JAER','JAER','JAER'];
const panelXTitle = ['D [m]','d [m]','K [m²]','D [m]','d [m]','Cd [-]','X [-]','LAI [-]','Cd [-]'];
const panelXMin = [.02146,3.204,.00245,.02215,1.33,.2766,-1.021,.3544,.304];
const panelXMax = [.08135,6.768,.03916,.07896,3.41,.7049,-.7608,.627,.681];
const panelXTicks = [[.04,.06,.08],[4,5,6],[.01,.02,.03],[.04,.06],[2,3],[.4,.6],[-1,-.9,-.8],[.4,.5,.6],[.4,.5,.6]];
const panelXDigits = [2,0,2,2,0,1,1,1,1];
const yTicks = [.7,.8,.9];
const yMin = .7;
const yMax = .9;

const svg = document.getElementById('figure');
const root = document.getElementById('panels');
const NS = 'http://www.w3.org/2000/svg';
const colLeft = [166, 762, 1359];
const colRight = [708, 1305, 1900.5];
const rowTop = [36, 488.7, 940];
const rowBottom = [383.3, 836, 1286.7];
const tickBaseline = [437, 889, 1341];
const titleBaseline = [465, 918, 1368];
const yTitleCentre = [214, 660, 1105];
const dotRadius = 8.6;
const fontSize = 37.5;

function jet(t) {
  const v = Math.max(0, Math.min(1, t));
  const part = c => Math.round(255 * Math.max(0, Math.min(1, 1.5 - Math.abs(4 * v - c))));
  return 'rgb(' + part(3) + ',' + part(2) + ',' + part(1) + ')';
}
function linear(d0, d1, r0, r1) {
  return v => r0 + (v - d0) / (d1 - d0) * (r1 - r0);
}
function make(tag, parent, attrs) {
  const el = document.createElementNS(NS, tag);
  for (const k in attrs) el.setAttribute(k, attrs[k]);
  parent.appendChild(el);
  return el;
}

const defs = svg.querySelector('defs');
panelSeries.forEach((series, p) => {
  const col = p % 3, row = Math.floor(p / 3);
  const L = colLeft[col], R = colRight[col], T = rowTop[row], B = rowBottom[row];
  const xAxis = linear(panelXMin[p], panelXMax[p], L, R);
  const yAxis = linear(yMin, yMax, B, T);
  const g = make('g', root, {});
  
  

  const clip = make('clipPath', defs, {id: 'clip' + p});
  make('rect', clip, {x: L, y: T, width: R - L, height: B - T});
  const points = make('g', g, {'clip-path': 'url(#clip' + p + ')'});
  
  
  const triples = [];
  for (let i = 0; i + 2 < series.length; i += 3) triples.push([series[i], series[i + 1], series[i + 2]]);
  triples.sort((a, b) => a[2] - b[2]);
  triples.forEach(t => {
    const c = make('circle', points, {cx: xAxis(t[0]).toFixed(1), cy: yAxis(t[1]).toFixed(1), r: dotRadius, fill: jet(t[2])});
    
    
  });

  const frame = make('rect', g, {x: L, y: T, width: R - L, height: B - T, fill: 'none', stroke: '#000', 'stroke-width': 2.6});
  
  

  yTicks.forEach(v => {
    const tick = make('line', g, {x1: L - 13.5, x2: L, y1: yAxis(v), y2: yAxis(v), stroke: '#000', 'stroke-width': 2.6});
    
    
    if (col === 0) {
      const label = make('text', g, {x: 138, y: yAxis(v) + 13.5, 'text-anchor': 'end', 'font-size': fontSize});
      
      
      label.textContent = v.toFixed(1);
    }
  });
  panelXTicks[p].forEach(v => {
    const x = xAxis(v);
    const tick = make('line', g, {x1: x, x2: x, y1: B, y2: B + 14, stroke: '#000', 'stroke-width': 2.6});
    
    
    const label = make('text', g, {x: x, y: tickBaseline[row], 'text-anchor': 'middle', 'font-size': fontSize});
    
    
    label.textContent = v.toFixed(panelXDigits[p]).replace('-', '\u2212');
  });

  const xTitle = make('text', g, {x: (L + R) / 2, y: titleBaseline[row] + (p === 2 ? 6 : 0), 'text-anchor': 'middle', 'font-size': fontSize});
  
  
  const titleParts = panelXTitle[p].split('²');
  if (titleParts.length === 2) {
    make('tspan', xTitle, {}).textContent = titleParts[0];
    make('tspan', xTitle, {dy: -14, 'font-size': 26}).textContent = '2';
    make('tspan', xTitle, {dy: 14}).textContent = titleParts[1];
  } else {
    xTitle.textContent = panelXTitle[p];
  }

  const src = make('text', g, {x: L + 5, y: T + 33.5, 'font-size': fontSize});
  
  
  src.textContent = panelSrc[p];

  const site = make('text', g, {x: L + 433, y: T + 33.5, 'font-size': fontSize});
  
  
  site.textContent = panelSite[p];

  if (col === 0) {
    const yTitle = make('text', g, {transform: 'translate(56,' + yTitleCentre[row] + ') rotate(-90)', 'text-anchor': 'middle', 'font-size': fontSize});
    
    
    const unit = make('tspan', yTitle, {});
    unit.textContent = 'm s';
    const exponent = make('tspan', yTitle, {dy: -15, 'font-size': 26, dx: 2});
    exponent.textContent = '\u22121';
  }
});
</script>
</body>
</html>
